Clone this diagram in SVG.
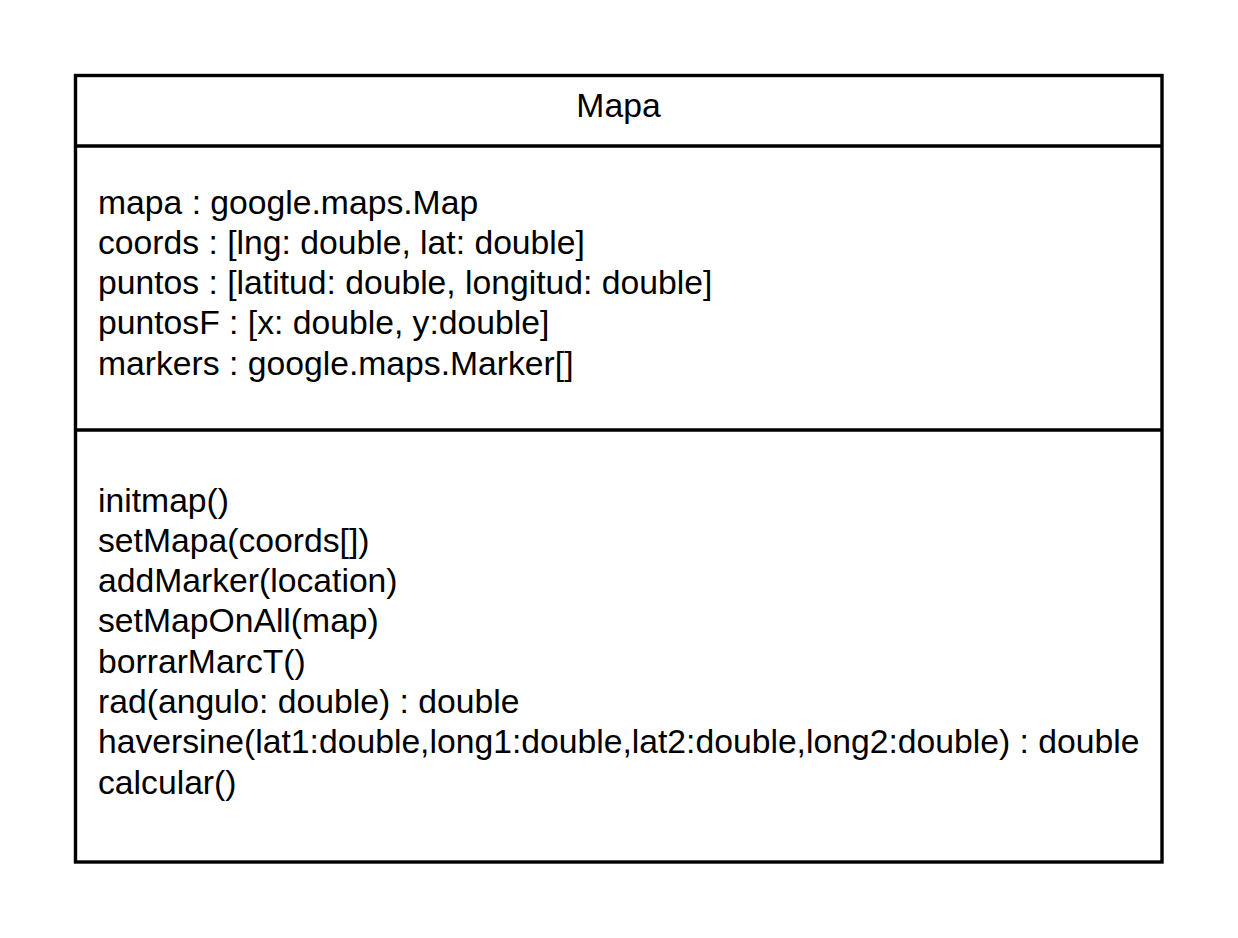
<svg xmlns="http://www.w3.org/2000/svg" width="1238" height="938" viewBox="0 0 1238 938">
<style>
.box{fill:#ffffff;stroke:#000000;stroke-width:3.4}
.sep{stroke:#000000;stroke-width:3.4;fill:none}
.t{font-family:"Liberation Sans",Arial,sans-serif;font-size:33.7px;fill:#000000}
</style>
<rect x="0" y="0" width="1238" height="938" fill="#ffffff"/>
<g id="Mapa">
<rect class="box" x="75.5" y="75.5" width="1086.5" height="786.5"/>
<line class="sep" x1="75.5" y1="146" x2="1162" y2="146"/>
<line class="sep" x1="75.5" y1="430" x2="1162" y2="430"/>
<text class="t" x="618.5" y="117" text-anchor="middle">Mapa</text>
<text class="t" x="98" y="213.5">mapa : google.maps.Map</text>
<text class="t" x="98" y="253.8">coords : [lng: double, lat: double]</text>
<text class="t" x="98" y="294.1">puntos : [latitud: double, longitud: double]</text>
<text class="t" x="98" y="334.4">puntosF : [x: double, y:double]</text>
<text class="t" x="98" y="374.7">markers : google.maps.Marker[]</text>
<text class="t" x="98" y="511.5">initmap()</text>
<text class="t" x="98" y="551.8">setMapa(coords[])</text>
<text class="t" x="98" y="592.1">addMarker(location)</text>
<text class="t" x="98" y="632.4">setMapOnAll(map)</text>
<text class="t" x="98" y="672.7">borrarMarcT()</text>
<text class="t" x="98" y="713">rad(angulo: double) : double</text>
<text class="t" x="98" y="753.3">haversine(lat1:double,long1:double,lat2:double,long2:double) : double</text>
<text class="t" x="98" y="793.6">calcular()</text>
</g>
<g id="connectors"></g>
</svg>
